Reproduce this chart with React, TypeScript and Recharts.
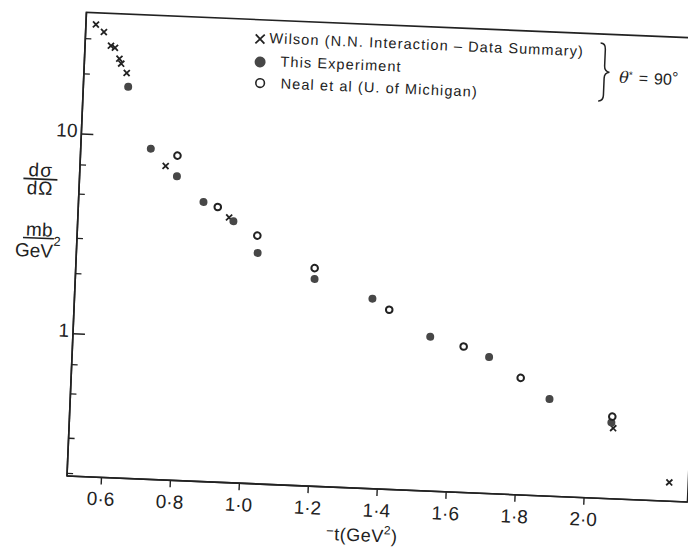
import React from "react";
import {
  ScatterChart,
  Scatter,
  XAxis,
  YAxis,
  ReferenceArea,
  Legend,
  Label,
} from "recharts";

// -t in GeV^2, dσ/dΩ in mb/GeV^2 at θ* = 90°
const WILSON_T = [0.529, 0.553, 0.575, 0.587, 0.601, 0.607, 0.624, 0.748, 0.938, 2.076, 2.245];
const WILSON_DSDO = [35.5, 32.7, 28.0, 27.4, 24.2, 22.9, 20.6, 7.2, 4.11, 0.438, 0.241];

const EXPT_T = [0.63, 0.703, 0.782, 0.862, 0.951, 1.025, 1.193, 1.363, 1.535, 1.708, 1.888, 2.07];
const EXPT_DSDO = [17.6, 8.73, 6.43, 4.85, 3.94, 2.77, 2.11, 1.73, 1.148, 0.934, 0.593, 0.467];

const NEAL_T = [0.781, 0.904, 1.022, 1.192, 1.413, 1.633, 1.802, 2.072];
const NEAL_DSDO = [8.16, 4.61, 3.38, 2.39, 1.535, 1.042, 0.747, 0.5];

const X_TICKS = [0.6, 0.8, 1.0, 1.2, 1.4, 1.6, 1.8, 2.0];
const Y_TICKS = [0.2, 0.3, 0.4, 0.5, 0.6, 0.7, 0.8, 0.9, 1, 2, 3, 4, 5, 6, 7, 8, 9, 10, 20, 30];
const Y_LABELED = [1, 10];

const SERIES_NAMES = [
  "Wilson (N.N. Interaction – Data Summary)",
  "This Experiment",
  "Neal et al (U. of Michigan)",
];

const X_DOMAIN: [number, number] = [0.5, 2.3];
const Y_DOMAIN: [number, number] = [0.194, 40.6];

const INK = "#222";
const DOT = "#474747";
const FONT = "'Liberation Sans', Arial, Helvetica, sans-serif";

const toPoints = (t: number[], v: number[]) => t.map((x, i) => ({ t: x, ds: v[i] }));

const wilson = toPoints(WILSON_T, WILSON_DSDO);
const expt = toPoints(EXPT_T, EXPT_DSDO);
const neal = toPoints(NEAL_T, NEAL_DSDO);

const crossPath = (cx: number, cy: number, h: number) =>
  `M${cx - h},${cy - h}L${cx + h},${cy + h}M${cx + h},${cy - h}L${cx - h},${cy + h}`;

const Cross = (p: any) => (
  <path d={crossPath(p.cx, p.cy, 3)} stroke={INK} strokeWidth={1.8} fill="none" />
);
const FilledDot = (p: any) => <circle cx={p.cx} cy={p.cy} r={4} fill={DOT} />;
const OpenDot = (p: any) => (
  <circle cx={p.cx} cy={p.cy} r={3.3} fill="#fff" stroke={INK} strokeWidth={2} />
);

const fmtX = (v: number) => v.toFixed(1).replace(".", "·");

// x ticks point outwards, labels hang below
const XTick = (p: any) => (
  <g>
    <line x1={p.x} x2={p.x} y1={p.y} y2={p.y + 7} stroke={INK} strokeWidth={1.4} />
    <text
      x={p.x}
      y={p.y + 28}
      textAnchor="middle"
      fontFamily={FONT}
      fontSize={19}
      fill={INK}
    >
      {fmtX(p.payload.value)}
    </text>
  </g>
);

// log ticks point into the frame; only the decades carry a number
const YTick = (p: any) => {
  const v = p.payload.value;
  const major = Y_LABELED.includes(v);
  return (
    <g>
      <line x1={p.x} x2={p.x + (major ? 12 : 6)} y1={p.y} y2={p.y} stroke={INK} strokeWidth={1.4} />
      {major && (
        <text x={p.x - 4} y={p.y + 3.3} textAnchor="end" fontFamily={FONT} fontSize={19} fill={INK}>
          {v}
        </text>
      )}
    </g>
  );
};

const YTitle = () => (
  <g fontFamily={FONT} fontSize={19} fill={INK}>
    <text x={28} y={178} textAnchor="middle" letterSpacing={1}>dσ</text>
    <line x1={11} x2={45} y1={180.5} y2={180.5} stroke={INK} strokeWidth={1.6} />
    <text x={28} y={196} textAnchor="middle" letterSpacing={1}>dΩ</text>
    <text x={29} y={237.5} textAnchor="middle">mb</text>
    <line x1={13} x2={44} y1={239.5} y2={239.5} stroke={INK} strokeWidth={1.6} />
    <text x={5.5} y={258.5}>
      GeV
      <tspan fontSize={13} dy={-12}>2</tspan>
    </text>
  </g>
);

const XTitle = () => (
  <text x={364} y={529} textAnchor="middle" fontFamily={FONT} fontSize={18} fill={INK} letterSpacing={0.5}>
    <tspan fontSize={13} dy={-5}>−</tspan>
    <tspan dy={5}>t(GeV</tspan>
    <tspan fontSize={12} dy={-8}>2</tspan>
    <tspan dy={8}>)</tspan>
  </text>
);

// symbol, text start and baseline for each legend row
const LegendBlock = () => (
  <svg
    width={700}
    height={100}
    style={{ position: "absolute", left: 0, top: 0, overflow: "visible" }}
    fontFamily={FONT}
  >
    <g fill={INK} fontSize={14.5} letterSpacing={1.1}>
      <path d={crossPath(241.6, 31.3, 4.5)} stroke={INK} strokeWidth={1.8} fill="none" />
      <text x={251} y={35}>{SERIES_NAMES[0]}</text>
      <circle cx={242.6} cy={54.3} r={5.5} fill={DOT} />
      <text x={263} y={58}>{SERIES_NAMES[1]}</text>
      <circle cx={243.5} cy={75.3} r={4.3} fill="none" stroke={INK} strokeWidth={1.6} />
      <text x={264} y={80}>{SERIES_NAMES[2]}</text>
    </g>
    <path
      d="M582,21 Q587,21 587,27 L587,44 Q587,49 592,50 Q587,51 587,56 L587,73 Q587,79 582,79"
      fill="none"
      stroke={INK}
      strokeWidth={1.5}
    />
    <text x={602} y={60} fontSize={16} fill={INK}>
      <tspan fontStyle="italic" fontFamily="'DejaVu Serif', serif">θ</tspan>
      <tspan fontSize={10} dy={-5}>*</tspan>
      <tspan dy={5} dx={6}>=</tspan>
      <tspan dx={6}>90</tspan>
      <tspan fontSize={16} dy={-2}>°</tspan>
    </text>
  </svg>
);

export default function App() {
  return (
    <div style={{ width: 688, height: 549, overflow: "hidden", position: "relative", background: "#fff" }}>
      <style>{"body{margin:0}"}</style>
      <div style={{ width: 700, height: 549, transform: "rotate(2.4deg)", transformOrigin: "67px 476px" }}>
        <ScatterChart width={700} height={549} margin={{ top: 12, right: 12, bottom: 0, left: 0 }}>
          <XAxis
            type="number"
            dataKey="t"
            domain={X_DOMAIN}
            ticks={X_TICKS}
            height={73}
            tickLine={false}
            tickSize={0}
            tickMargin={0}
            tick={XTick}
            axisLine={{ stroke: INK, strokeWidth: 1.6 }}
            allowDataOverflow
          >
            <Label content={XTitle} />
          </XAxis>
          <YAxis
            type="number"
            dataKey="ds"
            scale="log"
            domain={Y_DOMAIN}
            ticks={Y_TICKS}
            width={67}
            tickLine={false}
            tickSize={0}
            tickMargin={0}
            tick={YTick}
            axisLine={{ stroke: INK, strokeWidth: 1.6 }}
            allowDataOverflow
          >
            <Label content={YTitle} />
          </YAxis>
          <ReferenceArea
            x1={X_DOMAIN[0]}
            x2={X_DOMAIN[1]}
            y1={Y_DOMAIN[0]}
            y2={Y_DOMAIN[1]}
            fill="none"
            stroke={INK}
            strokeWidth={1.6}
            ifOverflow="visible"
          />
          <Legend
            content={LegendBlock}
            wrapperStyle={{ position: "absolute", left: 0, top: 0, width: 0, height: 0, overflow: "visible" }}
          />
          <Scatter name={SERIES_NAMES[0]} data={wilson} shape={Cross} isAnimationActive={false} />
          <Scatter name={SERIES_NAMES[1]} data={expt} shape={FilledDot} isAnimationActive={false} />
          <Scatter name={SERIES_NAMES[2]} data={neal} shape={OpenDot} isAnimationActive={false} />
        </ScatterChart>
      </div>
    </div>
  );
}
